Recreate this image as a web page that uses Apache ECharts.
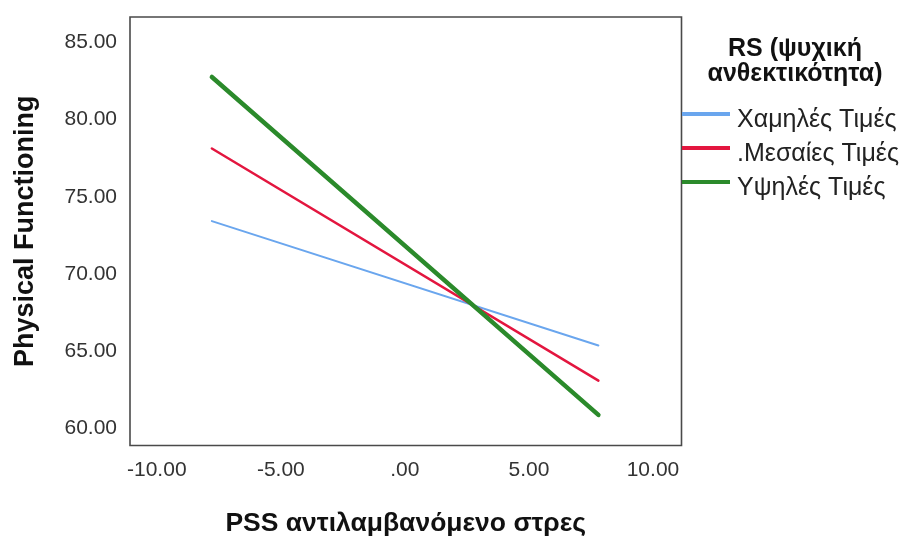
<!DOCTYPE html>
<html>
<head>
<meta charset="utf-8">
<script src="https://cdn.jsdelivr.net/npm/echarts@6/dist/echarts.min.js"></script>
<style>
html,body{margin:0;padding:0;background:#fff;}
#chart{width:907px;height:537px;}
</style>
</head>
<body>
<div id="chart"></div>
<script>
// Data
const xValues = [-7.78, 7.8];
const lowValues = [73.43, 65.38];   // Χαμηλές Τιμές
const midValues = [78.13, 63.11];   // .Μεσαίες Τιμές
const highValues = [82.76, 60.89];  // Υψηλές Τιμές
const seriesNames = ['Χαμηλές Τιμές', '.Μεσαίες Τιμές', 'Υψηλές Τιμές'];
const xTicks = [-10, -5, 0, 5, 10];
const yTicks = [60, 65, 70, 75, 80, 85];
const legendTitle = ['RS (ψυχική', 'ανθεκτικότητα)'];
const xTitle = 'PSS αντιλαμβανόμενο στρες';
const yTitle = 'Physical Functioning';

const colors = ['#6aa6ee', '#e3163f', '#2b8a2b'];
const widths = [2, 2.5, 4.5];

function fmt(v) {
  let s = Number(v).toFixed(2);
  if (s.startsWith('0.')) s = s.slice(1);
  return s;
}
function pairs(ys) { return xValues.map((x, i) => [x, ys[i]]); }

const chart = echarts.init(document.getElementById('chart'), null, {renderer: 'canvas'});
const font = '"Liberation Sans", Arial, sans-serif';

chart.setOption({
  animation: false,
  backgroundColor: '#fff',
  textStyle: {fontFamily: font},
  grid: {left: 130, top: 17, right: 225.5, bottom: 91.5, containLabel: false, outerBoundsMode: 'none',
         show: true, borderColor: '#4a4a4a', borderWidth: 1.6, backgroundColor: 'transparent'},
  xAxis: {
    type: 'value', min: -11.08, max: 11.15,
    axisLine: {show: false}, axisTick: {show: false}, splitLine: {show: false},
    axisLabel: {customValues: xTicks, formatter: fmt, fontSize: 21, color: '#333', margin: 14, fontFamily: font},
    name: xTitle, nameLocation: 'middle', nameGap: 65,
    nameTextStyle: {fontSize: 26.5, fontWeight: 'bold', color: '#111', fontFamily: font}
  },
  yAxis: {
    type: 'value', min: 58.91, max: 86.64,
    axisLine: {show: false}, axisTick: {show: false}, splitLine: {show: false},
    axisLabel: {customValues: yTicks, formatter: fmt, fontSize: 21, color: '#333', margin: 13, fontFamily: font},
    name: yTitle, nameLocation: 'middle', nameGap: 91, nameRotate: 90,
    nameTextStyle: {fontSize: 27, fontWeight: 'bold', color: '#111', fontFamily: font}
  },
  legend: {
    orient: 'vertical', left: 682, top: 97, padding: 0,
    icon: 'rect', itemWidth: 48, itemHeight: 4, itemGap: -1.5,
    formatter: name => '{s| }\n{t|' + name + '}',
    textStyle: {
      fontSize: 25, color: '#222', fontFamily: font, padding: [0, 0, 0, 2],
      rich: {
        s: {fontSize: 1, lineHeight: 12, height: 12},
        t: {fontSize: 25, lineHeight: 22, color: '#222', fontFamily: font}
      }
    },
    data: seriesNames
  },
  graphic: [
    {type: 'text', style: {x: 795, y: 49, text: legendTitle[0], textAlign: 'center', textVerticalAlign: 'middle', font: 'bold 25px ' + font, fill: '#111'}},
    {type: 'text', style: {x: 795, y: 74, text: legendTitle[1], textAlign: 'center', textVerticalAlign: 'middle', font: 'bold 25px ' + font, fill: '#111'}}
  ],
  series: [lowValues, midValues, highValues].map((ys, i) => ({
    name: seriesNames[i], type: 'line', data: pairs(ys), showSymbol: false, symbol: 'none',
    color: colors[i],
    lineStyle: {color: colors[i], width: widths[i], cap: 'round'},
    z: 2 + i
  }))
});
</script>
</body>
</html>
